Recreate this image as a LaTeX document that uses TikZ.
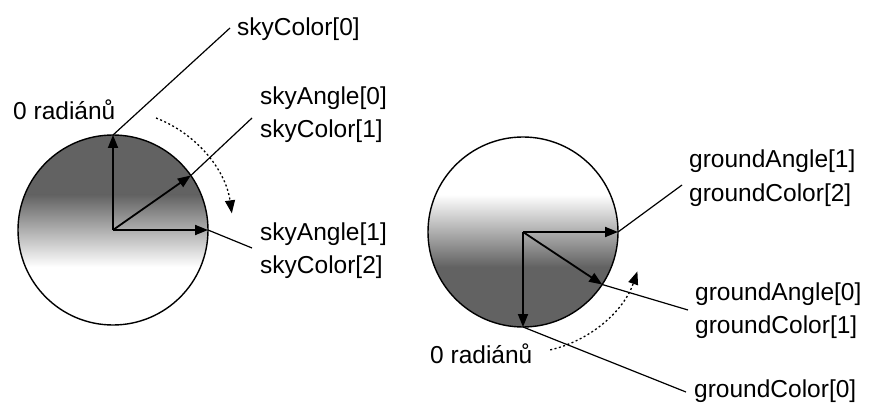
\documentclass[tikz,border=0pt]{standalone}
\usepackage{fontspec}
\setmainfont{Liberation Sans}
\usetikzlibrary{arrows.meta}
\definecolor{darksky}{RGB}{98,98,98}
\tikzset{
  lbl/.style={anchor=base west, inner sep=0pt, font=\fontsize{24.5}{32}\selectfont},
  vec/.style={line width=1.8pt, -{Triangle[length=13pt,width=10pt]}},
  leader/.style={line width=1.2pt},
  rim/.style={line width=1.4pt},
  turn/.style={line width=1.3pt, dash pattern=on 2pt off 2.5pt, -{Triangle[length=13pt,width=10pt]}}
}
\begin{document}
\begin{tikzpicture}[x=1pt,y=1pt]
\useasboundingbox (0,0) rectangle (869,410);
% ---------- left sphere (sky) ----------
\coordinate (sc) at (113,180);
\begin{scope}
  \clip (sc) circle[radius=95];
  \fill[darksky] (10,215) rectangle (220,280);
  \shade[top color=darksky, bottom color=white] (10,143) rectangle (220,215.5);
  \fill[white] (10,80) rectangle (220,143.2);
\end{scope}
\draw[rim] (sc) circle[radius=95];
\coordinate (st) at (113,275);
\coordinate (sa) at (190.8,234.5);
\coordinate (sr) at (208,180);
\draw[vec] (sc) -- (st);
\draw[vec] (sc) -- (sa);
\draw[vec] (sc) -- (sr);
\coordinate (l0) at (230,382);
\coordinate (l1) at (252,292);
\coordinate (l2) at (252,162);
\draw[leader] (st) -- (l0);
\draw[leader] (sa) -- (l1);
\draw[leader] (sr) -- (l2);
\coordinate (sarc) at (156,292);
\draw[turn] (sarc) arc[start angle=69, end angle=8, radius=120];
\node[lbl] (skyc0) at (237,374) {skyColor[0]};
\node[lbl] (skya0) at (260,305) {skyAngle[0]};
\node[lbl] (skyc1) at (260,272) {skyColor[1]};
\node[lbl] (skya1) at (260,170) {skyAngle[1]};
\node[lbl] (skyc2) at (260,137) {skyColor[2]};
\node[lbl] (rad0) at (13,290) {0 radiánů};
% ---------- right sphere (ground) ----------
\coordinate (gc) at (523,178);
\begin{scope}
  \clip (gc) circle[radius=95];
  \fill[white] (420,215) rectangle (630,280);
  \shade[top color=white, bottom color=darksky] (420,143) rectangle (630,215.5);
  \fill[darksky] (420,70) rectangle (630,143.2);
\end{scope}
\draw[rim] (gc) circle[radius=95];
\coordinate (gb) at (523,83);
\coordinate (gr) at (618,178);
\coordinate (ga) at (602.2,125.5);
\draw[vec] (gc) -- (gb);
\draw[vec] (gc) -- (gr);
\draw[vec] (gc) -- (ga);
\coordinate (m1) at (682,225);
\coordinate (m0) at (688,100);
\coordinate (mb) at (686,18);
\draw[leader] (gr) -- (m1);
\draw[leader] (ga) -- (m0);
\draw[leader] (gb) -- (mb);
\coordinate (garc) at (550.2,60.1);
\draw[turn] (garc) arc[start angle=-77, end angle=-19, radius=121];
\node[lbl] (gra1) at (689,242) {groundAngle[1]};
\node[lbl] (grc2) at (689,208) {groundColor[2]};
\node[lbl] (gra0) at (695,110) {groundAngle[0]};
\node[lbl] (grc1) at (695,77) {groundColor[1]};
\node[lbl] (grc0) at (694,13) {groundColor[0]};
\node[lbl] (rad1) at (430,47) {0 radiánů};
\end{tikzpicture}
\end{document}
